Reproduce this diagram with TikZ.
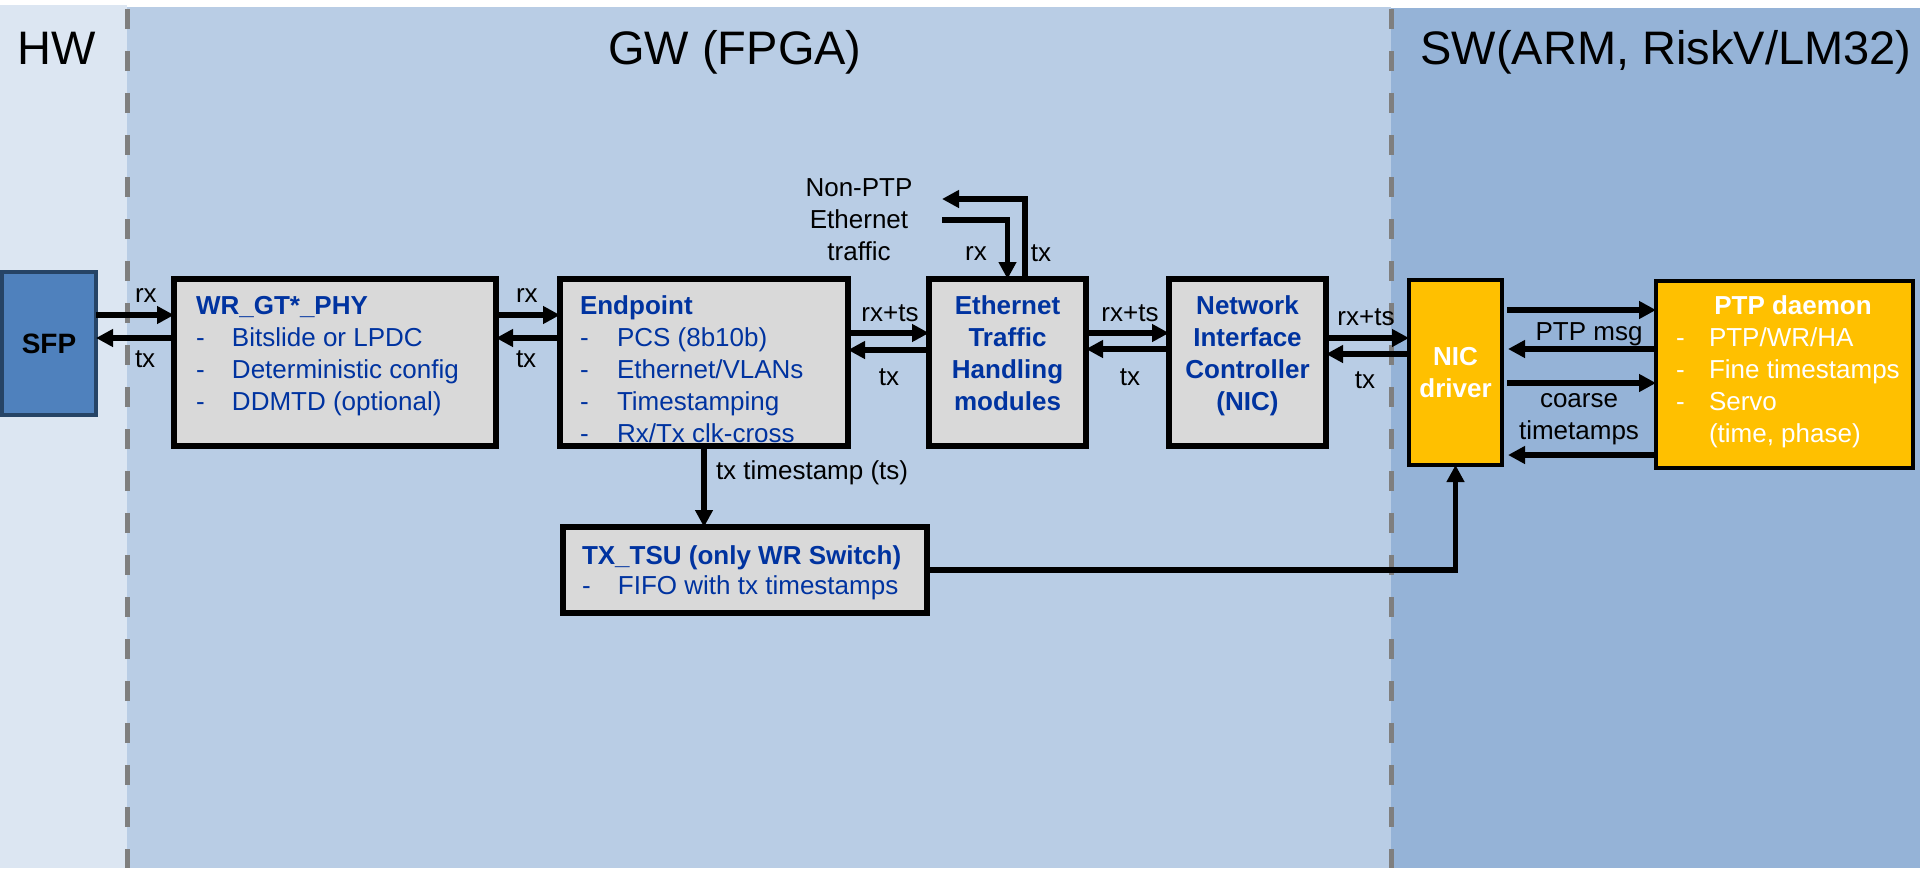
\documentclass[tikz,border=0pt]{standalone}
\usepackage{fontspec}
\setmainfont{Liberation Sans}
\usetikzlibrary{arrows.meta}
\definecolor{hwbg}{HTML}{DCE6F2}
\definecolor{gwbg}{HTML}{B9CDE5}
\definecolor{swbg}{HTML}{95B3D7}
\definecolor{boxgray}{HTML}{D9D9D9}
\definecolor{sfpfill}{HTML}{4F81BD}
\definecolor{sfpborder}{HTML}{264466}
\definecolor{ylw}{HTML}{FFC000}
\definecolor{txtblue}{HTML}{0033A0}
\definecolor{divgray}{HTML}{7F7F7F}
\newcommand\ditem[2][18pt]{\makebox[#1][l]{-}#2}
\begin{document}
\begin{tikzpicture}[x=0.5pt,y=-0.5pt,
  every node/.style={inner sep=0pt,outer sep=0pt},
  body/.style={font=\fontsize{13}{16}\selectfont},
  sectitle/.style={font=\fontsize{23.5}{28}\selectfont,anchor=base},
  graybox/.style={draw=black,line width=3pt,fill=boxgray,anchor=north west},
  ylwbox/.style={draw=black,line width=2.2pt,fill=ylw,anchor=north west},
  boxtext/.style={body,text=txtblue,align=left,anchor=north west},
  ctrtext/.style={font=\fontsize{13}{16}\selectfont\bfseries,text=txtblue,align=center,anchor=north},
  lbl/.style={body,text=black},
  arr/.style={draw=black,line width=2.75pt,-{Triangle[length=8.5pt,width=8.5pt]}},
  divider/.style={draw=divgray,line width=2.5pt,dash pattern=on 10pt off 11pt},
]
\useasboundingbox (0,0) rectangle (1920,868);
% backgrounds
\fill[hwbg] (0,5) rectangle (127,868);
\fill[gwbg] (127,7) rectangle (1391,868);
\fill[swbg] (1391,8) rectangle (1920,868);
\draw[divider] (127,9) -- (127,868);
\draw[divider] (1391,9) -- (1391,868);
% titles
\node[sectitle] (hwt) at (57,64) {HW};
\node[sectitle] (gwt) at (735,64) {GW (FPGA)};
\node[sectitle] (swt) at (1666,64) {SW(ARM, RiskV/LM32)};
% boxes
\node[draw=sfpborder,line width=2pt,fill=sfpfill,anchor=north west,minimum width=47pt,minimum height=71.5pt,font=\fontsize{14}{16}\selectfont\bfseries] (sfp) at (2,272) {SFP};

\node[graybox,minimum width=161pt,minimum height=83.5pt] (phy) at (174,279) {};
\node[boxtext] (phyt) at (196,296) {\textbf{WR\_GT*\_PHY}\\\ditem{Bitslide or LPDC}\\\ditem{Deterministic config}\\\ditem{DDMTD (optional)}};

\node[graybox,minimum width=144pt,minimum height=83.5pt] (ep) at (560,279) {};
\node[boxtext] (ept) at (580,296) {\textbf{Endpoint}\\\ditem[18.5pt]{PCS (8b10b)}\\\ditem[18.5pt]{Ethernet/VLANs}\\\ditem[18.5pt]{Timestamping}\\\ditem[18.5pt]{Rx/Tx clk-cross}};

\node[graybox,minimum width=78.5pt,minimum height=83.5pt] (eth) at (929,279) {};
\node[ctrtext] (etht) at (1007.5,296) {Ethernet\\Traffic\\Handling\\modules};

\node[graybox,minimum width=78.5pt,minimum height=83.5pt] (nic) at (1169,279) {};
\node[ctrtext] (nict) at (1247.5,296) {Network\\Interface\\Controller\\(NIC)};

\node[ylwbox,minimum width=46.5pt,minimum height=92.5pt,text=white,font=\fontsize{13}{16}\selectfont\bfseries,align=center] (drv) at (1409,280) {NIC\\driver};

\node[ylwbox,minimum width=128.5pt,minimum height=93.5pt] (ptp) at (1656,281) {};
\node[boxtext,text=white] (ptpt) at (1676,296) {\makebox[117pt][c]{\textbf{PTP daemon}}\\\ditem[16.5pt]{PTP/WR/HA}\\\ditem[16.5pt]{Fine timestamps}\\\ditem[16.5pt]{Servo}\\\hspace*{16.5pt}(time, phase)};

\node[graybox,minimum width=182pt,minimum height=43pt] (tsu) at (563,527) {};
\node[boxtext,font=\fontsize{13}{15}\selectfont] (tsut) at (582,546) {\textbf{TX\_TSU (only WR Switch)}\\\ditem{FIFO with tx timestamps}};

% Non-PTP traffic
\node[body,align=center,anchor=north] (nonptp) at (859,179) {Non-PTP\\Ethernet\\traffic};
\coordinate (txend) at (942,199);
\coordinate (rxstart) at (942,220);

% connectors
\draw[arr] (sfp.east |- 0,315) -- (phy.west |- 0,315);
\draw[arr] (phy.west |- 0,338) -- (sfp.east |- 0,338);
\draw[arr] (phy.east |- 0,315) -- (ep.west |- 0,315);
\draw[arr] (ep.west |- 0,338) -- (phy.east |- 0,338);
\draw[arr] (ep.east |- 0,333) -- (eth.west |- 0,333);
\draw[arr] (eth.west |- 0,350) -- (ep.east |- 0,350);
\draw[arr] (eth.east |- 0,333) -- (nic.west |- 0,333);
\draw[arr] (nic.west |- 0,349) -- (eth.east |- 0,349);
\draw[arr] (nic.east |- 0,338) -- (drv.west |- 0,338);
\draw[arr] (drv.west |- 0,354) -- (nic.east |- 0,354);
\draw[arr,shorten <=2.5pt] (drv.east |- 0,310) -- (ptp.west |- 0,310);
\draw[arr,shorten >=3pt] (ptp.west |- 0,349) -- (drv.east |- 0,349);
\draw[arr,shorten <=2.5pt] (drv.east |- 0,383) -- (ptp.west |- 0,383);
\draw[arr,shorten >=3pt] (ptp.west |- 0,455) -- (drv.east |- 0,455);
\draw[arr] (ep.south) -- (tsu.north -| ep.south);
\draw[arr] (tsu.east) -| (drv.south);
\draw[arr] (eth.north -| 1025,0) |- (txend);
\draw[arr] (rxstart) -| (eth.north);

% labels
\node[lbl,anchor=west] (l1) at (135,295) {rx};
\node[lbl,anchor=west] (l2) at (135,359) {tx};
\node[lbl,anchor=west] (l3) at (516,295) {rx};
\node[lbl,anchor=west] (l4) at (516,359) {tx};
\node[lbl] (l5) at (890,313) {rx+ts};
\node[lbl] (l6) at (889,377) {tx};
\node[lbl] (l7) at (1130,313) {rx+ts};
\node[lbl] (l8) at (1130,377) {tx};
\node[lbl] (l9) at (1366,317) {rx+ts};
\node[lbl] (l10) at (1365,380) {tx};
\node[lbl] (l11) at (1589,334) {PTP msg};
\node[lbl,align=center,anchor=north] (l12) at (1579,394) {coarse\\timetamps};
\node[lbl,anchor=west] (l13) at (716,473) {tx timestamp (ts)};
\node[lbl] (l14) at (976,253) {rx};
\node[lbl] (l15) at (1041,253) {tx};
\end{tikzpicture}
\end{document}
